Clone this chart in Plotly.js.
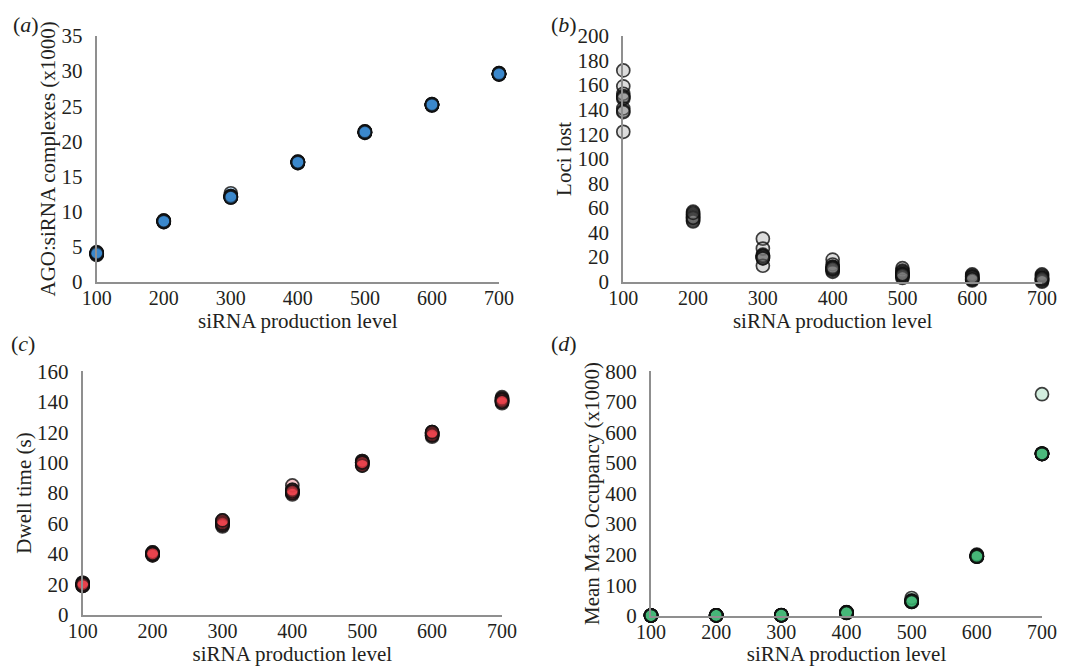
<!DOCTYPE html>
<html>
<head>
<meta charset="utf-8">
<script src="https://cdn.plot.ly/plotly-3.0.1.min.js"></script>
<style>html,body{margin:0;padding:0;background:#fff;}#chart{width:1081px;height:666px;}</style>
</head>
<body>
<div id="chart"></div>
<script>
// siRNA production levels (x categories)
const productionLevels = [100, 200, 300, 400, 500, 600, 700];

// (a) AGO:siRNA complexes (x1000), replicate runs per level
const agoComplexes = [
  [3.8, 3.9, 4.0, 4.0, 4.1, 4.1, 4.2, 3.9, 4.0, 4.1],
  [8.5, 8.6, 8.6, 8.7, 8.7, 8.6, 8.5, 8.7, 8.6, 8.6],
  [12.6, 12.1, 12.0, 12.1, 12.2, 12.0, 12.1, 12.2, 12.1, 12.0],
  [16.9, 17.0, 17.0, 17.1, 17.0, 16.9, 17.0, 17.1, 17.0, 17.0],
  [21.2, 21.3, 21.3, 21.4, 21.3, 21.2, 21.3, 21.3, 21.4, 21.3],
  [25.1, 25.2, 25.2, 25.3, 25.2, 25.1, 25.2, 25.3, 25.2, 25.2],
  [29.5, 29.6, 29.6, 29.7, 29.6, 29.5, 29.6, 29.7, 29.6, 29.6]
];

// (b) Loci lost
const lociLost = [
  [172, 159, 153, 151, 149, 150, 141, 139, 138, 122],
  [57, 55, 54, 53, 52, 51, 50, 49, 52, 56],
  [35, 27, 22, 21, 20, 19, 20, 13, 21, 19],
  [18, 14, 12, 11, 10, 9, 8, 10, 12, 11],
  [11, 9, 8, 7, 6, 5, 4, 3, 5, 6],
  [6, 5, 4, 3, 2, 2, 1, 3, 4, 2],
  [6, 5, 4, 3, 2, 1, 1, 0, 2, 3]
];

// (c) Dwell time (s)
const dwellTime = [
  [19, 20, 20, 21, 19, 20, 21, 20, 19, 20],
  [39, 40, 40, 41, 40, 39, 41, 40, 40, 40],
  [58, 59, 60, 61, 62, 60, 59, 61, 60, 62],
  [85, 82, 81, 80, 80, 81, 79, 80, 82, 81],
  [101, 100, 99, 98, 100, 101, 99, 100, 98, 100],
  [120, 119, 118, 117, 119, 120, 118, 119, 118, 120],
  [143, 142, 141, 140, 139, 141, 140, 142, 141, 140]
];

// (d) Mean Max Occupancy (x1000)
const maxOccupancy = [
  [0.5, 0.6, 0.5, 0.4, 0.5, 0.6, 0.5, 0.5, 0.4, 0.5],
  [1.0, 1.1, 1.0, 0.9, 1.0, 1.1, 1.0, 1.0, 0.9, 1.0],
  [1.5, 1.6, 1.5, 1.4, 1.5, 1.6, 1.5, 1.5, 1.4, 1.5],
  [10, 11, 10, 9, 10, 11, 10, 12, 9, 10],
  [58, 50, 48, 46, 45, 47, 46, 48, 45, 47],
  [200, 198, 195, 193, 194, 196, 195, 194, 193, 195],
  [725, 530, 530, 531, 529, 530, 530, 531, 529, 530]
];

const panelTitles = ['AGO:siRNA complexes (x1000)', 'Loci lost', 'Dwell time (s)', 'Mean Max Occupancy (x1000)'];
const xTitle = 'siRNA production level';
const panelLabels = ['(<i>a</i>)', '(<i>b</i>)', '(<i>c</i>)', '(<i>d</i>)'];

const FONT = 'Liberation Serif, Times New Roman, serif';
const TXT = '#231f20';

function flatten(vals) {
  const xs = [], ys = [];
  vals.forEach((reps, i) => reps.forEach(v => { xs.push(productionLevels[i]); ys.push(v); }));
  return {xs, ys};
}

function mk(vals, fill, xa, ya) {
  const f = flatten(vals);
  return {
    type: 'scatter', mode: 'markers', x: f.xs, y: f.ys, xaxis: xa, yaxis: ya,
    cliponaxis: false, showlegend: false, hoverinfo: 'x+y',
    marker: {size: 13, color: fill, line: {color: 'rgba(15,15,15,0.8)', width: 1.7}}
  };
}

const data = [
  mk(agoComplexes, 'rgba(58,134,204,0.35)', 'x', 'y'),
  mk(lociLost, 'rgba(120,120,120,0.25)', 'x2', 'y2'),
  mk(dwellTime, 'rgba(232,62,74,0.3)', 'x3', 'y3'),
  mk(maxOccupancy, 'rgba(55,178,110,0.22)', 'x4', 'y4')
];

function xax(dom, anchor) {
  return {
    domain: dom, anchor: anchor, range: [100, 700], dtick: 100, tick0: 100,
    showgrid: false, zeroline: false, showline: true, linecolor: '#8f8f8f', linewidth: 2,
    ticks: '', ticklen: 0, ticklabelstandoff: -3, tickfont: {family: FONT, size: 20, color: TXT},
    title: {text: xTitle, font: {family: FONT, size: 21, color: TXT}, standoff: 3},
    fixedrange: true
  };
}
function yax(dom, anchor, range, dtick, title, standoff) {
  return {
    domain: dom, anchor: anchor, range: range, dtick: dtick, tick0: 0,
    showgrid: false, zeroline: false, showline: true, linecolor: '#8f8f8f', linewidth: 2,
    ticks: '', ticklen: 0, ticklabelstandoff: 8, tickfont: {family: FONT, size: 21, color: TXT},
    title: {text: title, font: {family: FONT, size: 21, color: TXT}, standoff: standoff},
    fixedrange: true
  };
}

const W = 1081, H = 666;
const px = v => v / W, py = v => 1 - v / H;

const layout = {
  width: W, height: H, margin: {l: 0, r: 0, t: 0, b: 0},
  paper_bgcolor: '#fff', plot_bgcolor: '#fff', showlegend: false,
  font: {family: FONT, color: TXT},
  xaxis: xax([px(96.7), px(499)], 'y'),
  yaxis: yax([py(281.7), py(36)], 'x', [0, 35], 5, panelTitles[0], 0),
  xaxis2: xax([px(623.3), px(1042)], 'y2'),
  yaxis2: yax([py(281.7), py(36)], 'x2', [0, 200], 20, panelTitles[1], 0),
  xaxis3: xax([px(82.7), px(502)], 'y3'),
  yaxis3: yax([py(614.7), py(371.3)], 'x3', [0, 160], 20, panelTitles[2], 0),
  xaxis4: xax([px(651), px(1042)], 'y4'),
  yaxis4: yax([py(615.7), py(371.3)], 'x4', [0, 800], 100, panelTitles[3], 0),
  annotations: [
    {text: panelLabels[0], x: px(11), y: py(25), xanchor: 'left', yanchor: 'middle'},
    {text: panelLabels[1], x: px(549), y: py(25), xanchor: 'left', yanchor: 'middle'},
    {text: panelLabels[2], x: px(9), y: py(343), xanchor: 'left', yanchor: 'middle'},
    {text: panelLabels[3], x: px(549), y: py(343), xanchor: 'left', yanchor: 'middle'}
  ].map(a => Object.assign(a, {xref: 'paper', yref: 'paper', showarrow: false, font: {family: FONT, size: 22, color: TXT}}))
};

Plotly.newPlot('chart', data, layout, {displayModeBar: false, staticPlot: true});
</script>
</body>
</html>
